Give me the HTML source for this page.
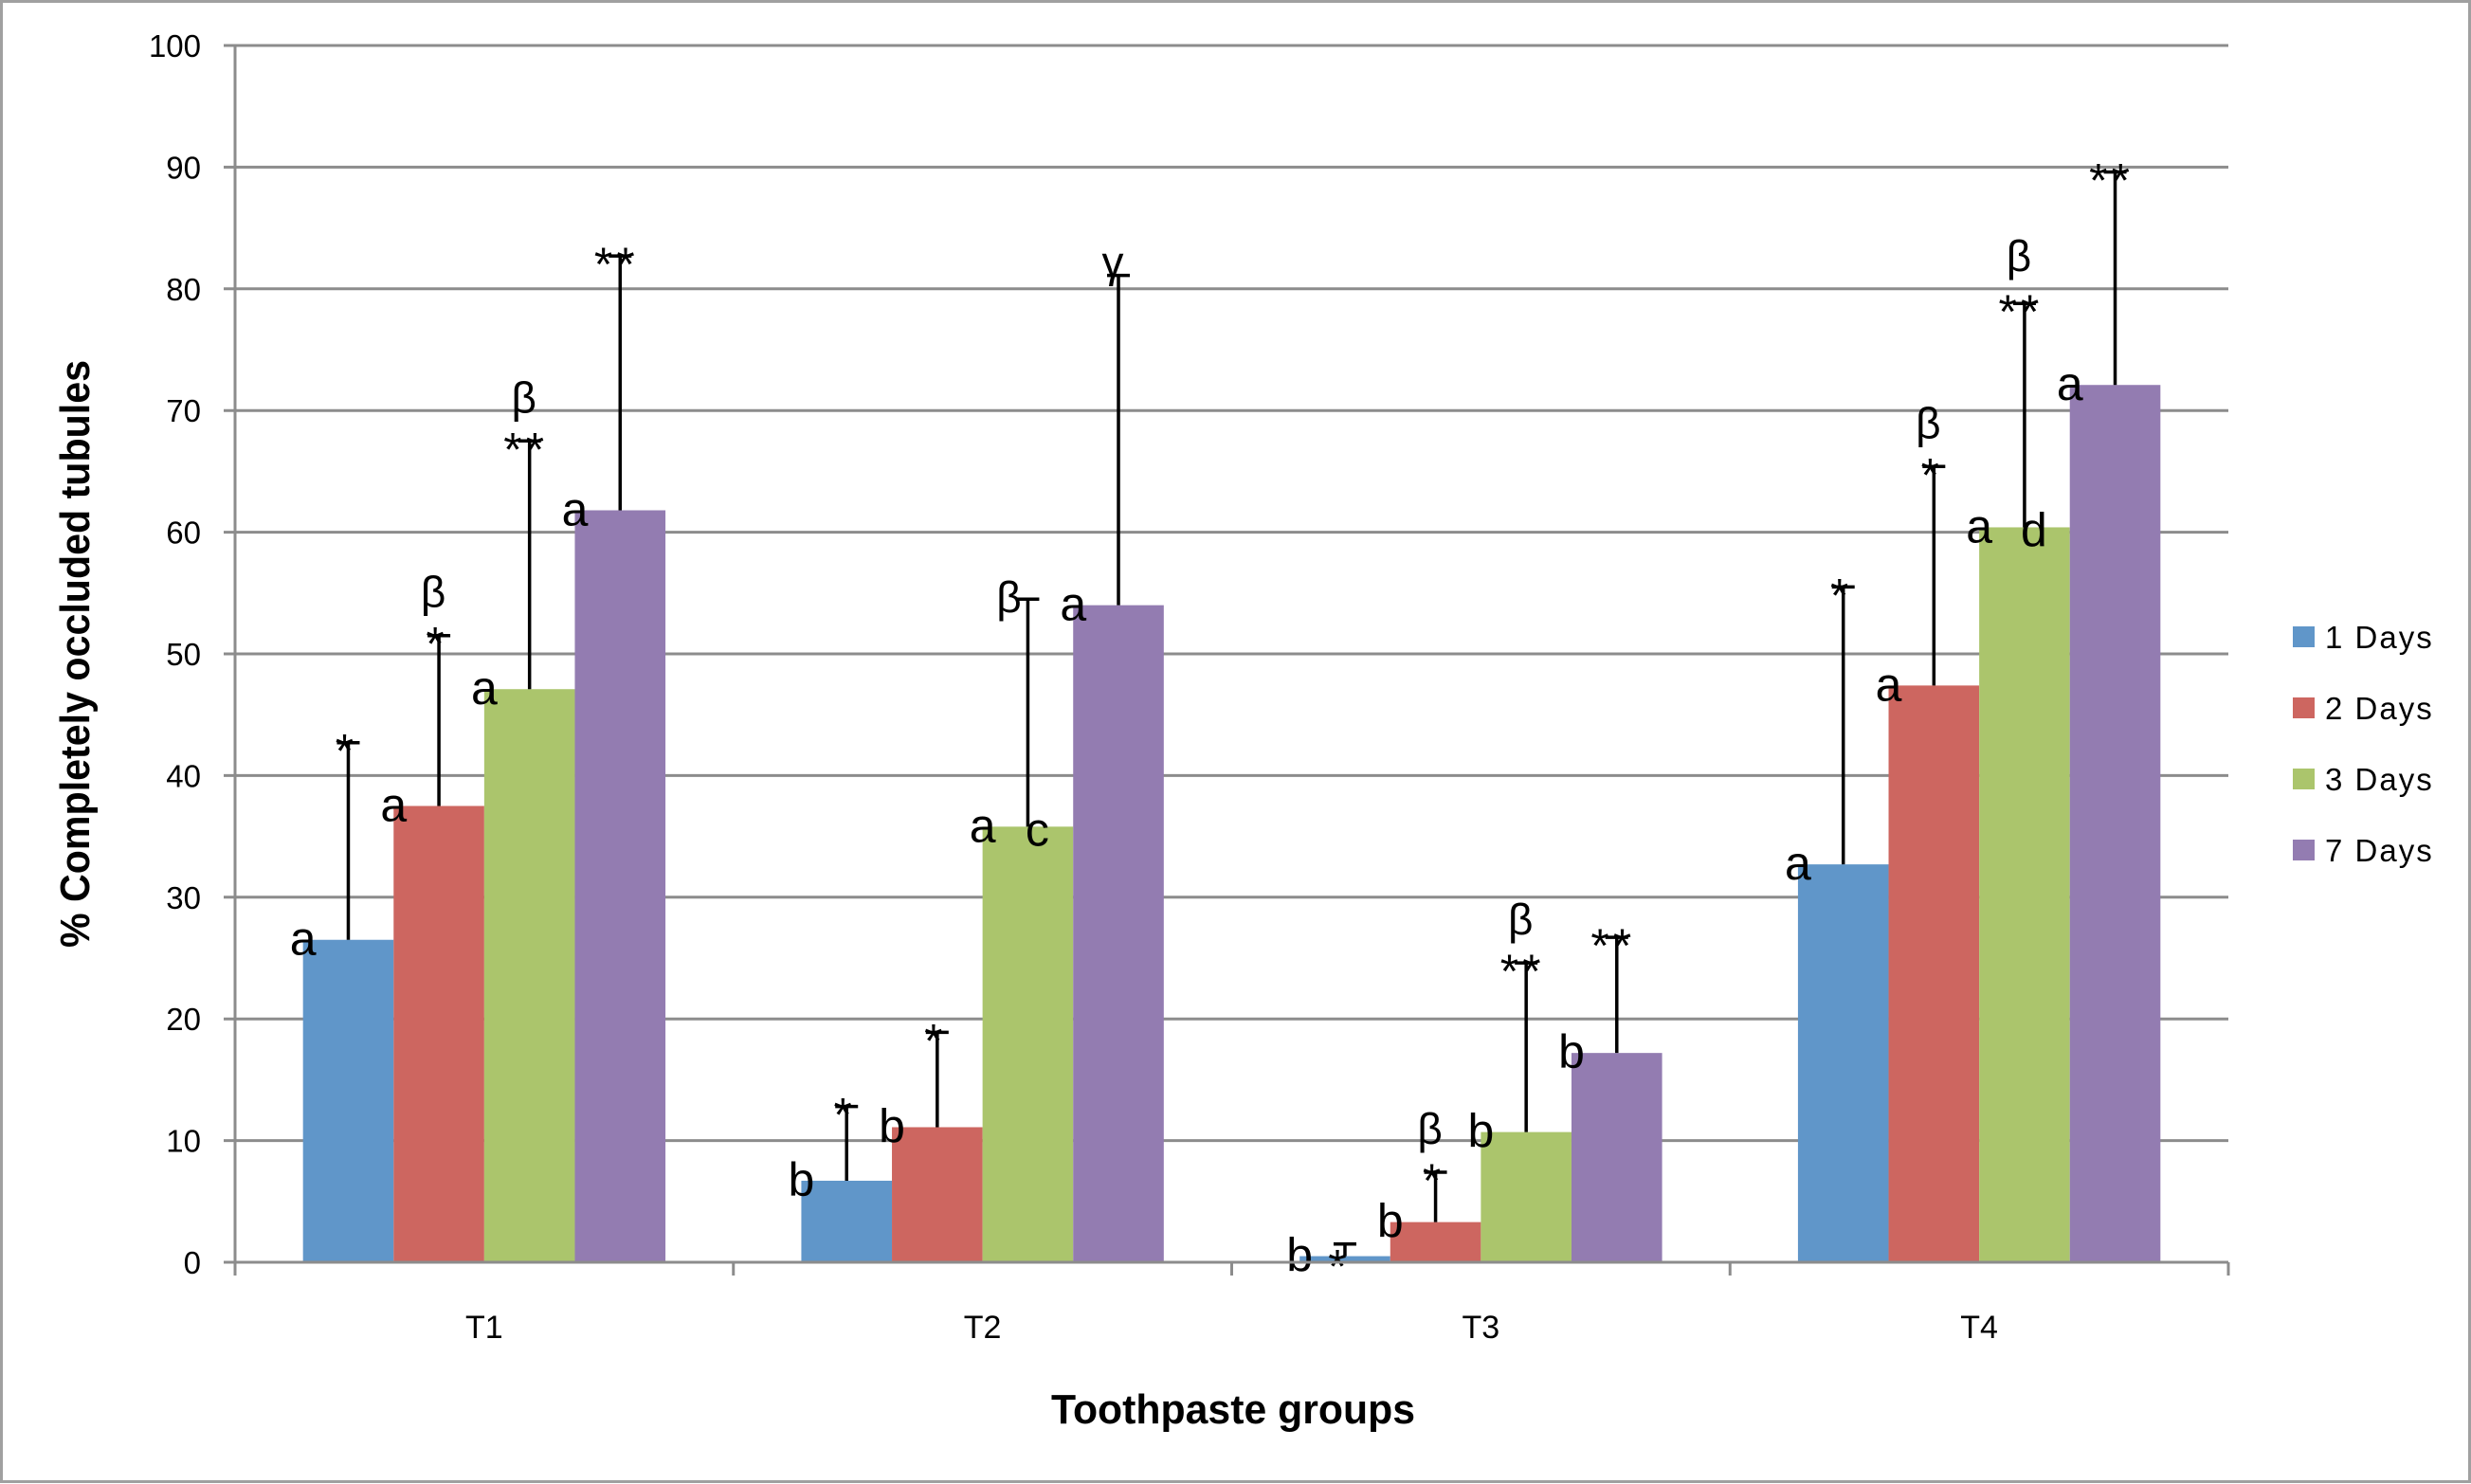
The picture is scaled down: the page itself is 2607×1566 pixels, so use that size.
<!DOCTYPE html>
<html><head><meta charset="utf-8"><style>
html,body{margin:0;padding:0;background:#fff}
svg{display:block}
text{font-family:"Liberation Sans",sans-serif}
</style></head><body>
<svg id="chart" width="2607" height="1566" viewBox="0 0 2607 1566" xmlns="http://www.w3.org/2000/svg">
<rect x="1.5" y="1.5" width="2604" height="1562" fill="#fff" stroke="#a0a0a0" stroke-width="3"/>
<g id="grid"></g><g id="bars"></g><g id="errs"></g><g id="ann"></g><g id="axes"></g>
<text transform="translate(94,690) rotate(-90)" text-anchor="middle" font-family="'Liberation Sans Narrow','Liberation Sans',sans-serif" font-weight="bold" font-size="44" textLength="620" lengthAdjust="spacingAndGlyphs">% Completely occluded tubules</text>
<text x="1301" y="1502" text-anchor="middle" font-family="'Liberation Sans Narrow','Liberation Sans',sans-serif" font-weight="bold" font-size="44" textLength="384" lengthAdjust="spacingAndGlyphs">Toothpaste groups</text>
<g id="legend"></g>
</svg>
<script>
const categories = ["T1","T2","T3","T4"];
const seriesNames = ["1 Days","2 Days","3 Days","7 Days"];
const day1 = [26.5, 6.7, 0.5, 32.7];
const day2 = [37.5, 11.1, 3.3, 47.4];
const day3 = [47.1, 35.8, 10.7, 60.4];
const day7 = [61.8, 54.0, 17.2, 72.1];
const err1 = [42.7, 12.8, 1.5, 55.5];
const err2 = [51.5, 18.9, 7.4, 65.4];
const err3 = [67.5, 54.5, 24.6, 78.8];
const err7 = [82.7, 81.1, 26.7, 89.6];
const letters1 = ["a","b","b","a"];
const letters2 = ["a","b","b","a"];
const letters3 = ["a","a","b","a"];
const letters7 = ["a","a","b","a"];
const inner3 = ["","c","","d"];
const stars1 = ["*","*","*","*"];
const stars2 = ["*","*","*","*"];
const stars3 = ["**","","**","**"];
const stars7 = ["**","","**","**"];
const greek2 = ["β","","β","β"];
const greek3 = ["β","β","β","β"];
const greek7 = ["","γ","",""];
const yTicks = [0,10,20,30,40,50,60,70,80,90,100];
const colors = ["#6096c9","#cd6660","#abc56c","#937cb1"];

const values=[day1,day2,day3,day7], errs=[err1,err2,err3,err7];
const letters=[letters1,letters2,letters3,letters7], stars=[stars1,stars2,stars3,stars7], greeks=[["","","",""],greek2,greek3,greek7];
const L=248,R=2351,Y0=1332,Y100=48;
const y=v=>Y0-(v/100)*(Y0-Y100);
const catW=(R-L)/categories.length, barW=95.6, off=(catW-4*barW)/2;
const bx=(c,s)=>L+c*catW+off+s*barW;
const NS="http://www.w3.org/2000/svg";
function mk(tag,attrs,parent,txt){const e=document.createElementNS(NS,tag);for(const k in attrs)e.setAttribute(k,attrs[k]);if(txt!==undefined)e.textContent=txt;parent.appendChild(e);return e;}
const grid=document.getElementById('grid'),axes=document.getElementById('axes'),bars=document.getElementById('bars'),errsG=document.getElementById('errs'),ann=document.getElementById('ann'),leg=document.getElementById('legend');
yTicks.forEach(t=>{
  const g=mk('line',{x1:L-12,x2:R,y1:y(t),y2:y(t),stroke:'#8c8c8c','stroke-width':3},grid);
  
  
  const tx=mk('text',{x:212,y:y(t)+12,'text-anchor':'end','font-size':33},axes,String(t));
  
  
});
mk('line',{x1:L,x2:L,y1:Y100,y2:Y0+12,stroke:'#8c8c8c','stroke-width':3},axes);
mk('line',{x1:L,x2:R,y1:Y0,y2:Y0,stroke:'#8c8c8c','stroke-width':3},axes);
for(let c=0;c<=categories.length;c++){mk('line',{x1:L+c*catW,x2:L+c*catW,y1:Y0,y2:Y0+14,stroke:'#8c8c8c','stroke-width':3},axes);}
categories.forEach((cat,c)=>{
  const t=mk('text',{x:L+c*catW+catW/2,y:1412,'text-anchor':'middle','font-size':34},axes,cat);
  
  
  for(let s=0;s<4;s++){
    const v=values[s][c], x=bx(c,s), cx=x+barW/2;
    const r=mk('rect',{x:x,y:y(v),width:barW,height:Y0-y(v),fill:colors[s]},bars);
    
    
    const e=errs[s][c];
    const el=mk('path',{d:`M${cx},${y(v)}V${y(e)}M${cx-12},${y(e)}H${cx+12}`,stroke:'#000','stroke-width':3.5,fill:'none'},errsG);
    
    
    const lt=mk('text',{x:x,y:y(v)+16,'text-anchor':'middle','font-size':50},ann,letters[s][c]);
    
    
    if(s===2 && inner3[c]){
      const t2=mk('text',{x:cx+10,y:y(v)+20,'text-anchor':'middle','font-size':50},ann,inner3[c]);
      
      
    }
    const st=stars[s][c];
    if(st){
      const low=(c===2&&s===0);
      const sy = low? y(v)+28 : y(e)+26;
      const sx = low? cx-8 : cx-4;
      const t3=mk('text',{x:sx,y:sy,'text-anchor':'middle','font-size':50,'letter-spacing':st.length>1?4:0},ann,st);
      
      
    }
    const gk=greeks[s][c];
    if(gk){
      let gy = y(e)-30, gx=cx-6;
      if(gk==='γ'){gy=y(e)+2;}
      if(s===2&&c===1){gy=y(e)+14; gx=cx-20;}
      if(s===2&&(c===3)){gy=y(e)-34;}
      const t4=mk('text',{x:gx,y:gy,'text-anchor':'middle','font-size':46},ann,gk);
      
      
    }
  }
});
seriesNames.forEach((n,s)=>{
  const yy=672+s*75;
  const sw=mk('rect',{x:2419,y:yy-11,width:23,height:22,fill:colors[s]},leg);
  
  
  const t=mk('text',{x:2453,y:yy+12,'font-size':33,'letter-spacing':2},leg,n);
  
  
});
</script>
</body></html>
